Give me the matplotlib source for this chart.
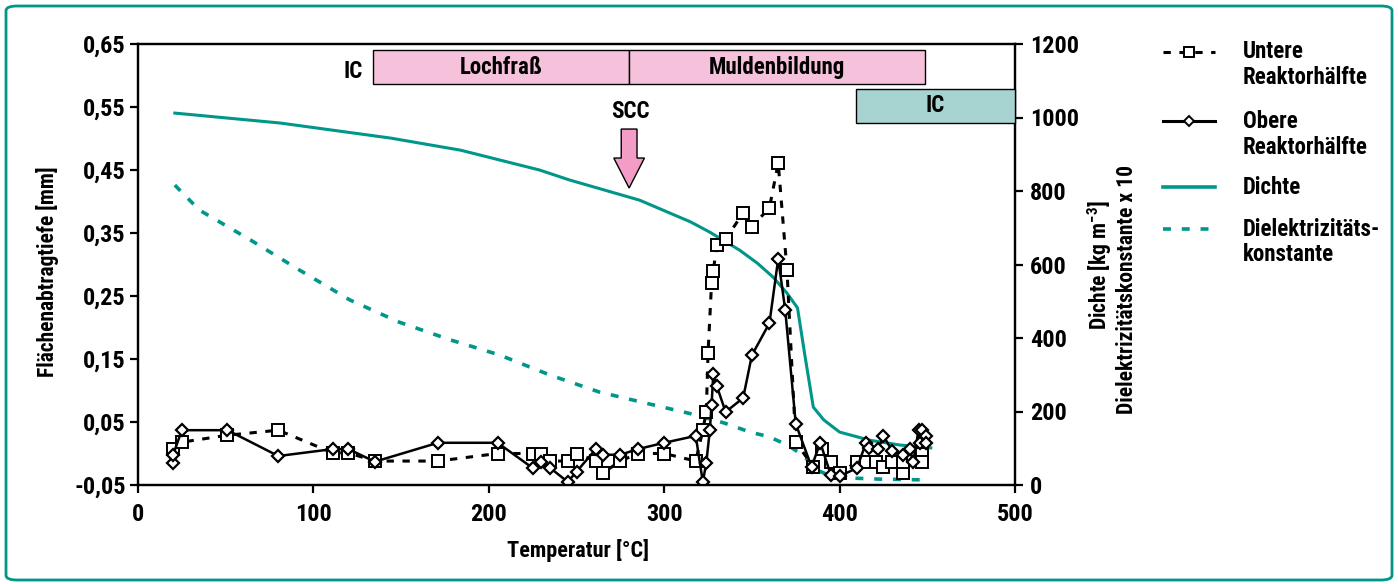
import matplotlib
matplotlib.use('Agg')
import matplotlib.pyplot as plt
from matplotlib import font_manager as fm
from matplotlib.patches import Rectangle, FancyArrow, FancyBboxPatch
from matplotlib.lines import Line2D

# ---------------- data ----------------
untere_T = [20, 25, 51, 80, 111, 120, 135, 171, 205, 225, 230, 235, 245, 250, 261, 265, 275,
            285, 300, 318, 322, 324, 325, 327, 328, 330, 335, 345, 350, 360, 365, 370, 375,
            385, 390, 395, 400, 410, 415, 421, 425, 430, 436, 436, 442, 447, 447]
untere_y = [0.007, 0.018, 0.029, 0.037, 0.001, 0.001, -0.012, -0.012, 0.0, 0.0, 0.0, -0.012,
            -0.012, 0.0, -0.012, -0.031, -0.012, 0.0, 0.0, -0.012, 0.037, 0.066, 0.16, 0.27,
            0.29, 0.331, 0.34, 0.382, 0.36, 0.39, 0.461, 0.291, 0.018, -0.021, 0.007, -0.013,
            -0.031, -0.013, -0.013, -0.013, -0.021, -0.013, -0.031, -0.013, -0.002, 0.0, -0.013]

obere_T = [20, 20, 25, 51, 80, 111, 120, 135, 171, 205, 225, 230, 235, 245, 250, 261, 265,
           275, 285, 300, 318, 322, 324, 326, 327, 328, 330, 335, 345, 350, 360, 365, 369,
           375, 384, 389, 395, 400, 410, 415, 417, 422, 425, 430, 436, 440, 442, 445, 446,
           447, 449, 449]
obere_y = [-0.015, -0.002, 0.037, 0.037, -0.004, 0.007, 0.007, -0.013, 0.017, 0.017, -0.023,
           -0.013, -0.023, -0.045, -0.029, 0.007, -0.002, -0.002, 0.007, 0.017, 0.028, -0.045,
           -0.015, 0.037, 0.077, 0.126, 0.107, 0.066, 0.088, 0.156, 0.207, 0.309, 0.228,
           0.047, -0.021, 0.017, -0.034, -0.036, -0.023, 0.017, 0.009, 0.007, 0.028, 0.004,
           -0.002, 0.007, -0.013, 0.037, 0.017, 0.037, 0.028, 0.017]

dichte_T = [21, 81, 144, 184, 229, 246, 286, 315, 326, 343, 353, 362, 370, 376, 380, 385,
            391, 400, 417, 434, 452]
dichte_v = [1012, 985, 944, 911, 857, 830, 775, 716, 688, 639, 604, 566, 522, 482, 359, 212,
            177, 144, 122, 109, 101]

diel_T = [21, 35, 64, 92, 121, 149, 178, 206, 235, 263, 292, 316, 334, 349, 360, 370, 379,
          387, 395, 406, 423, 448]
diel_v = [816, 748, 667, 585, 503, 443, 395, 354, 299, 253, 220, 193, 169, 144, 131, 109, 82,
          41, 24, 19, 16, 14]

x_ticks = [0, 100, 200, 300, 400, 500]
y_left_ticks = [-0.05, 0.05, 0.15, 0.25, 0.35, 0.45, 0.55, 0.65]
y_left_labels = ['-0,05', '0,05', '0,15', '0,25', '0,35', '0,45', '0,55', '0,65']
y_right_ticks = [0, 200, 400, 600, 800, 1000, 1200]

# ---------------- font choice (condensed if available) ----------------
entries = fm.fontManager.ttflist
def has(name, stretch=None):
    return any(e.name == name and (stretch is None or str(e.stretch) == stretch) for e in entries)

if has('Roboto Condensed'):
    FAM, STRETCH, FS = 'Roboto Condensed', 'normal', 16
elif has('Liberation Sans Narrow'):
    FAM, STRETCH, FS = 'Liberation Sans Narrow', 'normal', 16
elif has('DejaVu Sans', 'condensed'):
    FAM, STRETCH, FS = 'DejaVu Sans', 'condensed', 15
elif has('Open Sans', 'condensed'):
    FAM, STRETCH, FS = 'Open Sans', 'condensed', 15
elif has('Liberation Sans'):
    FAM, STRETCH, FS = 'Liberation Sans', 'normal', 15
else:
    FAM, STRETCH, FS = 'DejaVu Sans', 'normal', 14

WEIGHT = 'black'
plt.rcParams['font.family'] = [FAM, 'DejaVu Sans']
plt.rcParams['font.stretch'] = STRETCH
plt.rcParams['font.weight'] = WEIGHT
plt.rcParams['font.size'] = FS
spec = FAM + ':black' + (':condensed' if STRETCH == 'condensed' else '')
plt.rcParams['mathtext.fontset'] = 'custom'
plt.rcParams['mathtext.rm'] = spec
plt.rcParams['mathtext.bf'] = spec
plt.rcParams['mathtext.it'] = spec
plt.rcParams['mathtext.sf'] = spec

TEAL = '#00968A'
PINK_BOX = '#F6C1DB'
PINK_ARROW = '#F29CC6'
TEAL_BOX = '#A7D4D1'

W, H = 1398, 584
def fx(px):
    return px / W
def fy(py):
    return 1 - py / H

fig = plt.figure(figsize=(W / 100, H / 100), dpi=100)
fig.patch.set_facecolor('white')

# frame around figure
fig.patches.append(FancyBboxPatch((fx(6), fy(580)), fx(1392) - fx(6), fy(6) - fy(580),
                                  boxstyle='round,pad=0,rounding_size=0.008',
                                  transform=fig.transFigure, fill=False,
                                  edgecolor=TEAL, linewidth=2))

ax = fig.add_axes([fx(138), fy(485), fx(1015) - fx(138), fy(44) - fy(485)])
ax2 = ax.twinx()
ax.set_zorder(ax2.get_zorder() + 1)
ax.patch.set_visible(False)

DASH_DIEL = (0, (2.2, 3.0))
DASH_UNT = (0, (2.4, 2.8))

# teal curves on right axis
ax2.plot(dichte_T, dichte_v, color=TEAL, lw=2.2, solid_joinstyle='round')
ax2.plot(diel_T, diel_v, color=TEAL, lw=2.6, linestyle=DASH_DIEL)

# marker series on left axis
ax.plot(untere_T, untere_y, color='black', lw=2.2, linestyle=DASH_UNT,
        marker='s', ms=8, mfc='white', mec='black', mew=1.4)
ax.plot(obere_T, obere_y, color='black', lw=1.8, linestyle='-',
        marker='D', ms=6.5, mfc='white', mec='black', mew=1.6)

ax.set_xlim(0, 500)
ax.set_ylim(-0.05, 0.65)
ax2.set_ylim(0, 1200)

ax.set_xticks(x_ticks)
ax.set_yticks(y_left_ticks)
ax.set_yticklabels(y_left_labels)
ax2.set_yticks(y_right_ticks)

TL = FS + 1.5
for a in (ax, ax2):
    for s in a.spines.values():
        s.set_linewidth(1.6)
ax.tick_params(axis='both', direction='out', length=6, width=1.6, labelsize=TL, top=False)
ax.tick_params(axis='x', pad=7)
ax.tick_params(axis='y', pad=3)
ax2.tick_params(axis='y', direction='out', length=6, width=1.6, labelsize=TL, pad=5)

# annotation boxes
ax.add_patch(Rectangle((134, 0.586), 280 - 134, 0.640 - 0.586, facecolor=PINK_BOX,
                       edgecolor='black', lw=1.0, clip_on=False, zorder=5))
ax.add_patch(Rectangle((280, 0.586), 448.7 - 280, 0.640 - 0.586, facecolor=PINK_BOX,
                       edgecolor='black', lw=1.0, clip_on=False, zorder=5))
ax.add_patch(Rectangle((409.5, 0.5246), 500 - 409.5, 0.5786 - 0.5246, facecolor=TEAL_BOX,
                       edgecolor='black', lw=1.0, clip_on=False, zorder=5))
ax.text(207, 0.613, 'Lochfraß', ha='center', va='center', zorder=6, fontsize=FS + 0.5)
ax.text(364, 0.613, 'Muldenbildung', ha='center', va='center', zorder=6, fontsize=FS + 0.5)
ax.text(454.7, 0.5516, 'IC', ha='center', va='center', zorder=6, fontsize=FS + 0.5)
ax.text(128, 0.6056, 'IC', ha='right', va='center', zorder=6, fontsize=FS + 0.5)
ax.text(280.5, 0.5421, 'SCC', ha='center', va='center', zorder=6, fontsize=FS + 0.5)
ax.add_patch(FancyArrow(280, 0.515, 0, 0.4214 - 0.515, width=9.0, head_width=17.5,
                        head_length=0.0476, length_includes_head=True,
                        facecolor=PINK_ARROW, edgecolor='black', lw=1.0, zorder=6))

# axis labels
fig.text(fx(48), fy(272), 'Flächenabtragtiefe [mm]', rotation=90, ha='center', va='center',
         fontsize=FS - 0.5)
fig.text(fx(578), fy(551), 'Temperatur [°C]', ha='center', va='center')
fig.text(fx(1100), fy(265), 'Dichte [kg m$^{-3}$]', rotation=90, ha='center', va='center',
         fontsize=FS - 0.5)
fig.text(fx(1127), fy(290), 'Dielektrizitätskonstante x 10', rotation=90, ha='center',
         va='center', fontsize=FS - 0.5)

# legend (manual)
x0, xm, x1 = fx(1163), fx(1189), fx(1215)
tx = fx(1243)
def leg_line(py, **kw):
    fig.add_artist(Line2D([x0, xm, x1], [fy(py)] * 3, transform=fig.transFigure,
                          markevery=[1], **kw))
leg_line(52, color='black', lw=2.2, linestyle=DASH_UNT, marker='s', ms=6.5,
         mfc='white', mec='black', mew=1.4)
leg_line(121, color='black', lw=2.2, linestyle='-', marker='D', ms=5.5,
         mfc='white', mec='black', mew=1.4)
leg_line(187, color=TEAL, lw=2.6, linestyle='-')
leg_line(229, color=TEAL, lw=2.6, linestyle=DASH_DIEL)
for py, txt in [(52, 'Untere'), (78, 'Reaktorhälfte'), (121, 'Obere'), (147, 'Reaktorhälfte'),
                (187, 'Dichte'), (229, 'Dielektrizitäts-'), (254, 'konstante')]:
    fig.text(tx, fy(py), txt, ha='left', va='center', fontsize=FS + 0.5)

fig.savefig('out.png', dpi=100, facecolor='white')
